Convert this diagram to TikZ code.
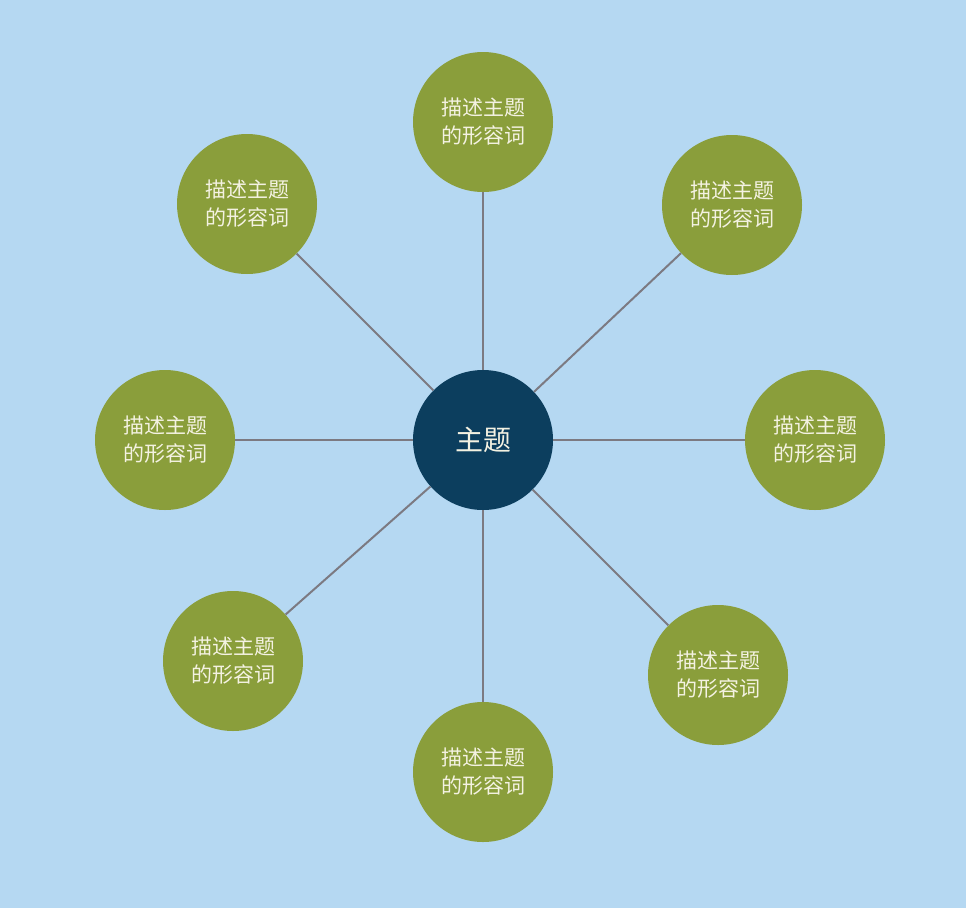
\documentclass[tikz,border=0pt]{standalone}
\usepackage{fontspec}
\newfontfamily\cjk{Noto Sans CJK SC}
\definecolor{skyback}{HTML}{B5D8F2}
\definecolor{olivebub}{HTML}{8A9E3B}
\definecolor{navytopic}{HTML}{0C3E5E}
\definecolor{spokegray}{HTML}{7C7A82}
\definecolor{creamtext}{HTML}{F4F2E2}
\begin{document}
\begin{tikzpicture}[x=1pt, y=-1pt, font=\cjk,
    bubble/.style={circle, fill=olivebub, minimum size=140pt, inner sep=0pt,
                   text=creamtext, align=center, font=\cjk\fontsize{21}{28}\selectfont},
    spoke/.style={draw=spokegray, line width=2pt}]
                % Background
                \fill[skyback] (0,0) rectangle (966,908);
                \useasboundingbox (0,0) rectangle (966,908);

                % --- CENTER ---
                \node[circle, fill=navytopic, minimum size=140pt, inner sep=0pt,
                      text=creamtext, font=\cjk\fontsize{28}{32}\selectfont] (topic) at (483,440) {主题};

                % --- ADJECTIVES ---
                \node[bubble] (top)    at (483,122) {描述主题\\的形容词};
                \node[bubble] (topl)   at (247,204) {描述主题\\的形容词};
                \node[bubble] (topr)   at (732,205) {描述主题\\的形容词};
                \node[bubble] (left)   at (165,440) {描述主题\\的形容词};
                \node[bubble] (right)  at (815,440) {描述主题\\的形容词};
                \node[bubble] (botl)   at (233,661) {描述主题\\的形容词};
                \node[bubble] (botr)   at (718,675) {描述主题\\的形容词};
                \node[bubble] (bottom) at (483,772) {描述主题\\的形容词};

                % --- SPOKES ---
                \draw[spoke] (topic) -- (top);
                \draw[spoke] (topic) -- (topl);
                \draw[spoke] (topic) -- (topr);
                \draw[spoke] (topic) -- (left);
                \draw[spoke] (topic) -- (right);
                \draw[spoke] (topic) -- (botl);
                \draw[spoke] (topic) -- (botr);
                \draw[spoke] (topic) -- (bottom);
\end{tikzpicture}
\end{document}
